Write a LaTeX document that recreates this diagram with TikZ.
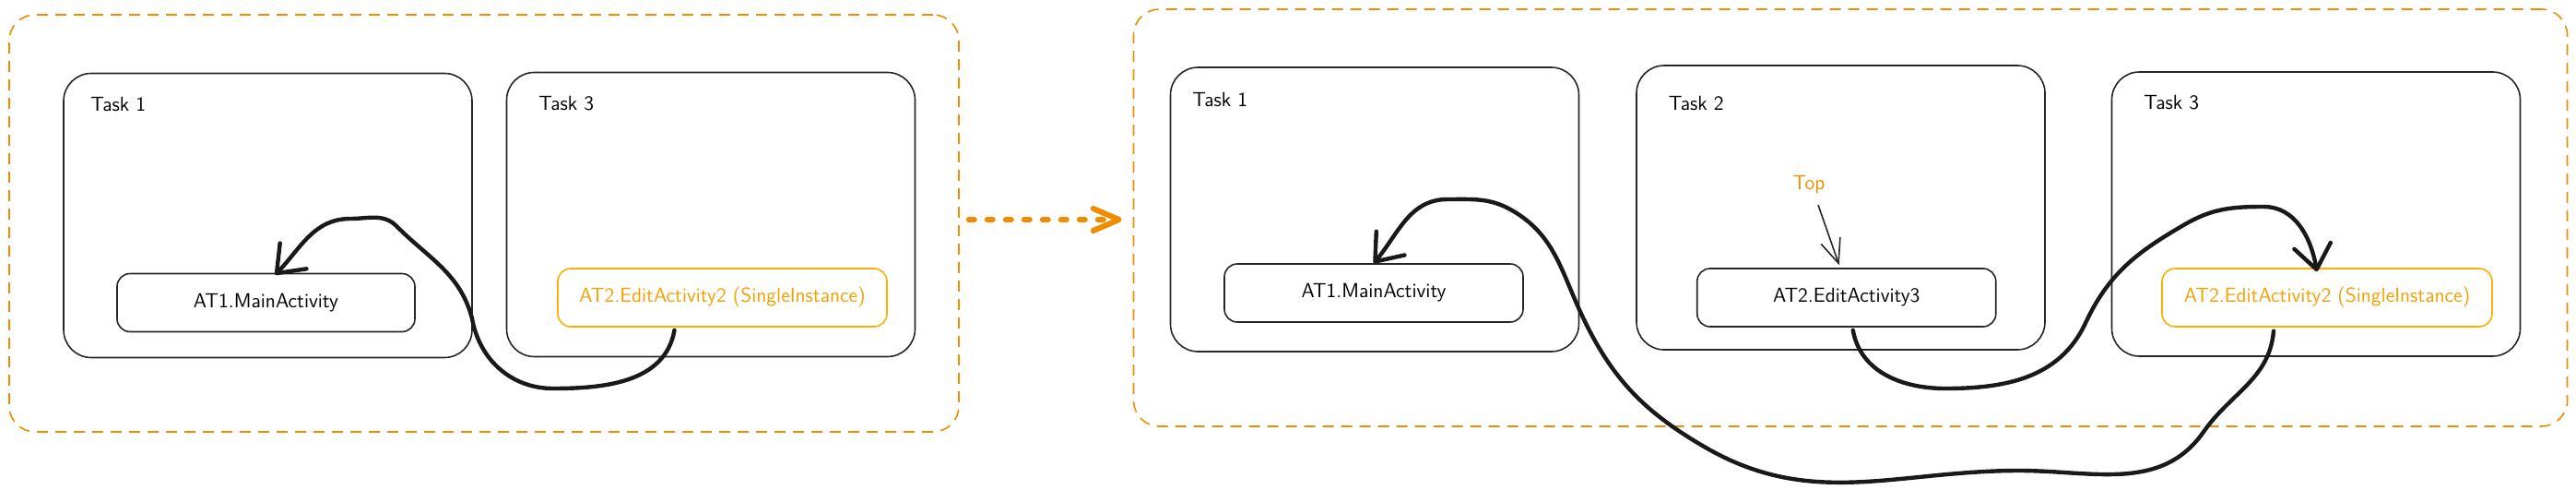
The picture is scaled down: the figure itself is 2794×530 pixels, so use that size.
\documentclass[tikz,border=0pt]{standalone}
\usetikzlibrary{arrows.meta,calc}
\definecolor{arancio}{HTML}{F08C00}
\definecolor{giallo}{HTML}{F59F00}
\definecolor{giallobordo}{HTML}{FAB005}
\begin{document}
\begin{tikzpicture}[x=0.5pt,y=-0.5pt,
    gruppo/.style={draw=arancio,dash pattern=on 6pt off 4pt,line width=0.8pt,rounded corners=14pt,inner sep=0pt},
    task/.style={draw=black!85,line width=0.8pt,rounded corners=15pt,minimum width=221.5pt,minimum height=154pt,inner sep=0pt},
    attivita/.style={draw=black!85,line width=0.8pt,rounded corners=7pt,minimum height=31.5pt,inner sep=0pt,font=\fontsize{11}{13}\sffamily},
    singola/.style={attivita,draw=giallobordo,text=giallo},
    etichetta/.style={anchor=west,font=\fontsize{11}{13}\sffamily,inner sep=0pt},
    freccia/.style={line width=2.2pt,black!90,line cap=round,line join=round,-{Straight Barb[length=13pt,width=20pt,round]}}]

        \useasboundingbox (0,0) rectangle (2794,530);

        % Gruppo sinistro
        \node[gruppo,minimum width=515pt,minimum height=226pt] (gruppoL) at (525,242) {};
        \node[task] (task1L) at (290.5,233.5) {};
        \node[task] (task3L) at (771,232.5) {};
        \node[etichetta] (lab1L) at (98,113) {Task 1};
        \node[etichetta] (lab3L) at (584,112) {Task 3};
        \node[attivita,minimum width=161.5pt] (mainL) at (288.5,328) {AT1.MainActivity};
        \node[singola,minimum width=178.5pt] (edit2L) at (783.5,322.5) {AT2.EditActivity2 (SingleInstance)};

        % Gruppo destro
        \node[gruppo,minimum width=777.5pt,minimum height=226pt] (gruppoR) at (2007,236) {};
        \node[task] (task1R) at (1491,227) {};
        \node[task] (task2R) at (1996.5,225) {};
        \node[task] (task3R) at (2512,232) {};
        \node[etichetta] (lab1R) at (1293,108) {Task 1};
        \node[etichetta] (lab2R) at (1809.5,112) {Task 2};
        \node[etichetta] (lab3R) at (2325,111) {Task 3};
        \node[attivita,minimum width=162pt] (mainR) at (1490,317.5) {AT1.MainActivity};
        \node[attivita,minimum width=162pt] (edit3R) at (2002.75,322.5) {AT2.EditActivity3};
        \node[singola,minimum width=179pt] (edit2R) at (2524,322.5) {AT2.EditActivity2 (SingleInstance)};
        \node[font=\fontsize{11}{13}\sffamily,text=arancio,inner sep=0pt] (top) at (1962,200) {Top};

        % Passaggio
        \draw[arancio,line width=3pt,line cap=round,dash pattern=on 3pt off 7pt,-{Straight Barb[length=14pt,width=12pt,round]}] ($(gruppoL.east)+(10,-4)$) -- ($(gruppoR.west)+(-12,2)$);
        \draw[black!85,line width=0.8pt,-{Straight Barb[length=13pt,width=11pt]}] ($(top.south)+(10,12)$) -- ($(edit3R.north)+(-8,-3)$);

        % Frecce
        \draw[freccia] ($(edit2L.south)+(-52,3)$) to[out=-100,in=0] (600,421) to[out=180,in=-80] (512,345) to[out=105,in=-45] (430,245) to[out=135,in=0] (380,237) to[out=180,in=46] ($(mainL.north)+(10,2)$);
        \draw[freccia] ($(edit3R.south)+(7,3)$) to[out=-80,in=180] (2110,421) to[out=0,in=-115] (2262,350) to[out=65,in=-150] (2370,243) to[out=30,in=180] (2455,224) to[out=0,in=100] ($(edit2R.north)+(-11,4)$);
        \draw[freccia] ($(edit2R.south)+(-58,4)$) to[out=-95,in=55] (2390,468) to[out=-125,in=0] (2190,510) to[out=180,in=-30] (1850,485) to[out=150,in=-65] (1715,340) to[out=115,in=-30] (1640,228) to[out=150,in=0] (1570,216) to[out=180,in=50] (mainR.north);

        \end{tikzpicture}
\end{document}
